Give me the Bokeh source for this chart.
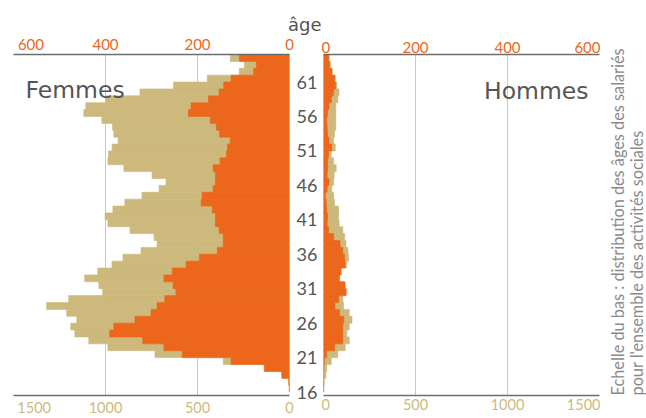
from bokeh.plotting import figure
from bokeh.models import Range1d, LinearAxis, FixedTicker, Label, Title
from bokeh.layouts import row
from bokeh.embed import file_html
from bokeh.resources import INLINE

# ---- data (ages 16..64) ----
ages = list(range(16, 65))
femmes_total = [1, 4, 35, 125, 360, 731, 987, 1091, 1167, 1189, 1156, 1211, 1320, 1200,
                1015, 1036, 1113, 1042, 965, 905, 807, 720, 736, 867, 987, 1002, 960, 895,
                802, 709, 671, 747, 900, 987, 984, 964, 931, 955, 962, 1020, 1118, 1107,
                998, 813, 631, 447, 273, 245, 322]
femmes_secteur = [0.5, 1.5, 17, 55, 127, 233, 273, 319, 391, 382, 336, 301, 288, 271,
                  247, 253, 273, 255, 225, 196, 157, 144, 144, 153, 161, 161, 168, 192,
                  190, 166, 161, 161, 166, 151, 137, 135, 129, 152, 159, 172, 220, 214,
                  176, 153, 143, 127, 78, 72, 109]
hommes_total = [2, 4, 13, 18, 42, 78, 118, 140, 127, 140, 155, 140, 109, 105,
                115, 110, 82, 90, 125, 136, 133, 122, 115, 105, 85, 82, 82, 60,
                55, 45, 55, 58, 69, 55, 42, 64, 55, 60, 67, 67, 67, 67,
                78, 84, 73, 65, 49, 38, 33]
hommes_secteur = [0.2, 0.3, 0.5, 1, 2, 7, 24, 42, 42, 42, 44, 35, 25, 33,
                  49.5, 47, 35, 38.5, 47, 46, 42, 36, 22, 11, 8, 9, 7, 6,
                  4, 8, 12, 8, 9, 9, 11, 18, 12, 9, 8, 7, 9, 12,
                  17, 22, 26, 24, 18, 13, 11]

age_ticks = [16, 21, 26, 31, 36, 41, 46, 51, 56, 61]
top_ticks = [0, 200, 400, 600]
bottom_ticks = [0, 500, 1000, 1500]
grid_ticks = [200, 400, 600]

note_text = ("Echelle du bas : distribution des âges des salariés\n"
             "pour l'ensemble des activités sociales")

ORANGE = "#EC671B"
KHAKI = "#CCB97B"
KHAKI_TXT = "#CDBA7E"
GRAY = "#555555"
AXIS = "#6E6E6E"
GRID = "#C8C8C8"
FONT = "Lato"
BIG_FONT = "DejaVu Sans"
FS = "\u2007"

y_mid = [a + 0.5 for a in ages]
y_range = Range1d(15.5, 65)

H = 418
TOP = 54
BOTTOM = 20


def style_top(ax, overrides):
    ax.ticker = FixedTicker(ticks=top_ticks)
    ax.major_label_text_color = ORANGE
    ax.major_label_text_font = FONT
    ax.major_label_text_font_size = "15px"
    ax.major_tick_line_color = None
    ax.major_tick_out = 0
    ax.major_tick_in = 0
    ax.minor_tick_line_color = None
    ax.minor_tick_out = 0
    ax.axis_line_color = AXIS
    ax.axis_line_width = 1.5
    ax.major_label_standoff = 2
    ax.major_label_overrides = overrides


def style_bottom(ax, overrides):
    ax.ticker = FixedTicker(ticks=bottom_ticks)
    ax.major_label_text_color = KHAKI_TXT
    ax.major_label_text_font = FONT
    ax.major_label_text_font_size = "14.5px"
    ax.major_tick_line_color = None
    ax.major_tick_out = 0
    ax.major_tick_in = 0
    ax.minor_tick_line_color = None
    ax.minor_tick_out = 0
    ax.axis_line_color = AXIS
    ax.axis_line_width = 1.5
    ax.major_label_standoff = 3
    ax.major_label_overrides = overrides


def clean(p):
    p.outline_line_color = None
    p.background_fill_color = None
    p.border_fill_color = None


# ---- left panel: Femmes ----
left = figure(width=321, height=H, title=None,
              x_range=Range1d(600, 0), y_range=y_range,
              x_axis_location="above", y_axis_location="right",
              output_backend="svg", toolbar_location=None,
              min_border_left=13, min_border_right=32,
              min_border_top=TOP, min_border_bottom=BOTTOM)
left.extra_x_ranges = {"total": Range1d(1500, 0)}
clean(left)

left.hbar(y=y_mid, height=1, left=0, right=femmes_total, x_range_name="total",
          fill_color=KHAKI, line_color=KHAKI, line_width=0.6)
left.hbar(y=y_mid, height=1, left=0, right=femmes_secteur,
          fill_color=ORANGE, line_color=ORANGE, line_width=0.6)

style_top(left.xaxis[0], {600: FS * 2 + "600"})
lb = LinearAxis(x_range_name="total")
style_bottom(lb, {1500: FS * 2 + "1500"})
left.add_layout(lb, "below")

ya = left.yaxis[0]
ya.ticker = FixedTicker(ticks=age_ticks)
ya.major_label_text_font = FONT
ya.major_label_text_font_size = "18px"
ya.major_label_text_color = GRAY
ya.major_tick_line_color = None
ya.major_tick_out = 0
ya.major_tick_in = 0
ya.minor_tick_line_color = None
ya.minor_tick_out = 0
ya.axis_line_color = None
ya.major_label_standoff = 7

left.xgrid.ticker = FixedTicker(ticks=grid_ticks)
left.xgrid.grid_line_color = GRID
left.ygrid.visible = False

left.add_layout(Title(text="âge", align="right", offset=-32, standoff=-6,
                      text_font=BIG_FONT, text_font_size="18px",
                      text_font_style="normal", text_color=GRAY), "above")

left.add_layout(Label(x=12, y=306, x_units="screen", y_units="screen", text="Femmes",
                      text_font=BIG_FONT, text_font_size="23.5px", text_color=GRAY,
                      text_align="left", text_baseline="alphabetic"))

# ---- right panel: Hommes ----
right = figure(width=279, height=H, title=None,
               x_range=Range1d(0, 600), y_range=y_range,
               x_axis_location="above", y_axis_location=None,
               output_backend="svg", toolbar_location=None,
               min_border_left=2, min_border_right=1,
               min_border_top=TOP, min_border_bottom=BOTTOM)
right.extra_x_ranges = {"total": Range1d(0, 1500)}
clean(right)

right.hbar(y=y_mid, height=1, left=0, right=hommes_total, x_range_name="total",
           fill_color=KHAKI, line_color=KHAKI, line_width=0.6)
right.hbar(y=y_mid, height=1, left=0, right=hommes_secteur,
           fill_color=ORANGE, line_color=ORANGE, line_width=0.6)

style_top(right.xaxis[0], {})
rb = LinearAxis(x_range_name="total")
style_bottom(rb, {})
right.add_layout(rb, "below")

right.xgrid.ticker = FixedTicker(ticks=grid_ticks)
right.xgrid.grid_line_color = GRID
right.ygrid.visible = False

right.add_layout(Label(x=265, y=305, x_units="screen", y_units="screen", text="Hommes",
                       text_font=BIG_FONT, text_font_size="23.5px", text_color=GRAY,
                       text_align="right", text_baseline="alphabetic"))

# ---- note column (rotated scale note) ----
note = figure(width=46, height=H, title=None,
              x_axis_location=None, y_axis_location=None,
              output_backend="svg", toolbar_location=None,
              min_border_left=45, min_border_right=0,
              min_border_top=TOP, min_border_bottom=BOTTOM)
clean(note)
note.xgrid.visible = False
note.ygrid.visible = False
note.add_layout(Title(text=note_text, align="left", offset=0, standoff=0,
                      text_font=FONT, text_font_size="16.3px",
                      text_font_style="normal", text_color="#8A8A8A"), "left")

layout = row(left, right, note)
open("out.html", "w").write(file_html(layout, INLINE))
